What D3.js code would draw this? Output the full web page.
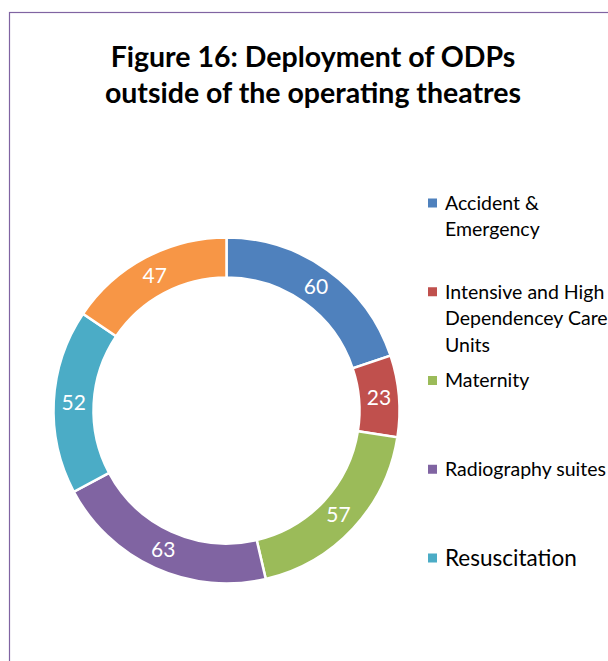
<!DOCTYPE html>
<html>
<head>
<meta charset="utf-8">
<script src="https://cdn.jsdelivr.net/npm/d3@7"></script>
<style>
  html, body { margin: 0; padding: 0; background: #fff; }
  svg { display: block; }
</style>
</head>
<body>
<svg id="chart" width="608" height="661"></svg>
<script>
// Deployment of ODPs by location
const categories = [
  "Accident & Emergency",
  "Intensive and High Dependencey Care Units",
  "Maternity",
  "Radiography suites",
  "Resuscitation",
  "Other"
];
const values = [60, 23, 57, 63, 52, 47];
const colors = ["#4F81BD", "#C0504D", "#9BBB59", "#8064A2", "#4BACC6", "#F79646"];
// Legend entries wrapped as they appear in the legend box
const legendLines = [
  ["Accident &", "Emergency"],
  ["Intensive and High", "Dependencey Care", "Units"],
  ["Maternity"],
  ["Radiography suites"],
  ["Resuscitation"],
  ["Other"]
];
const legendSizes = [19.5, 19.5, 19.5, 19.5, 22.5, 19.5];
const titleLines = ["Figure 16: Deployment of ODPs", "outside of the operating theatres"];

const W = 608, H = 661;
const svg = d3.select("#chart");
const font = "Lato, 'Open Sans', sans-serif";

// chart frame
svg.append("rect")
  .attr("x", 9.5).attr("y", 12.5)
  .attr("width", 640).attr("height", 700)
  .attr("fill", "#fff")
  .attr("stroke", "#8064A2").attr("stroke-width", 1.2);

// title
const title = svg.append("text")
  .attr("text-anchor", "middle")
  .attr("font-family", font)
  .attr("font-weight", "bold")
  .attr("font-size", 28.5)
  .attr("fill", "#000");
titleLines.forEach((t, i) => {
  title.append("tspan").attr("x", 313).attr("y", 67 + i * 36).text(t);
});

// donut
const cx = 226.5, cy = 410.5, rOuter = 173, rInner = 133;
const pie = d3.pie().sort(null).value(d => d.value);
const arcs = pie(categories.map((c, i) => ({ name: c, value: values[i], color: colors[i] })));
const arc = d3.arc().innerRadius(rInner).outerRadius(rOuter);

const g = svg.append("g").attr("transform", `translate(${cx},${cy})`);
g.selectAll("path.slice")
  .data(arcs)
  .join("path")
  .attr("class", "slice")
  .attr("d", arc)
  .attr("fill", d => d.data.color)
  .attr("stroke", "#fff")
  .attr("stroke-width", 2.5)
  .attr("stroke-linejoin", "miter");

g.selectAll("text.value")
  .data(arcs)
  .join("text")
  .attr("class", "value")
  .attr("transform", d => `translate(${arc.centroid(d)})`)
  .attr("text-anchor", "middle")
  .attr("dy", "0.36em")
  .attr("font-family", font)
  .attr("font-size", 21)
  .attr("fill", "#fff")
  .text(d => d.data.value);

// legend: entries that do not fit in the frame are left out
const legendX = 428, legendY0 = 203, legendStep = 88.75, lineH = 26.5;
const legend = svg.append("g");
legendLines.forEach((lines, i) => {
  const y = legendY0 + i * legendStep;
  if (y > H - 20) return;
  legend.append("rect")
    .attr("x", legendX).attr("y", y - 4.5)
    .attr("width", 9).attr("height", 9)
    .attr("fill", colors[i]);
  const t = legend.append("text")
    .attr("font-family", font)
    .attr("font-size", legendSizes[i])
    .attr("fill", "#000");
  lines.forEach((l, j) => {
    t.append("tspan").attr("x", legendX + 17).attr("y", y + j * lineH).attr("dy", "0.35em").text(l);
  });
});
</script>
</body>
</html>
